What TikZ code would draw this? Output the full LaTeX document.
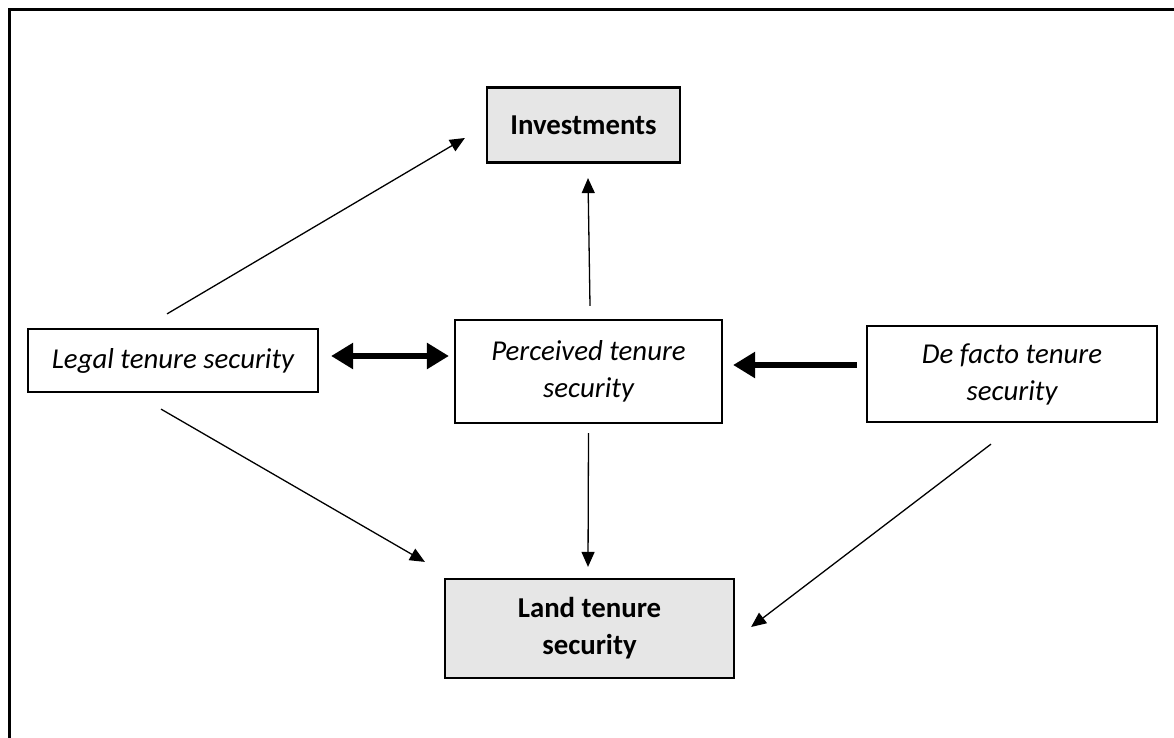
\documentclass[tikz,border=0pt]{standalone}
\usepackage{fontspec}
\setmainfont{Carlito}
\usetikzlibrary{arrows.meta,calc}
\definecolor{boxgray}{HTML}{E6E6E6}
\begin{document}
\begin{tikzpicture}[x=1pt,y=-1pt,
  every node/.style={font=\fontsize{28.8}{37}\selectfont, inner sep=0pt, align=center},
  plainbox/.style={draw=black, line width=2.2pt, fill=white},
  graybox/.style={draw=black, line width=2.2pt, fill=boxgray, font=\fontsize{28.8}{37}\selectfont\bfseries},
  thinarrow/.style={line width=1.3pt, -{Triangle[length=15pt,width=13pt]}},
  thickarrow/.style={line width=6pt, -{Triangle[length=22pt,width=25pt]}},
  thickboth/.style={line width=5.5pt, {Triangle[length=22pt,width=25pt]}-{Triangle[length=22pt,width=25pt]}}
]
\useasboundingbox (0,0) rectangle (1174,738);
\clip (0,0) rectangle (1174,738);
\draw[line width=3pt] (9,10) rectangle (1200,770);

\node[graybox, minimum width=193pt, minimum height=75pt] (inv) at (583.5,125) {Investments};
\node[graybox, minimum width=289pt, minimum height=99pt] (land) at (589.5,628.5) {Land tenure\\security};
\node[plainbox, minimum width=290pt, minimum height=63pt] (legal) at (173,360.5) {\itshape Legal tenure security};
\node[plainbox, minimum width=267pt, minimum height=103pt] (perc) at (588.5,371.5) {\itshape Perceived tenure\\\itshape security};
\node[plainbox, minimum width=290pt, minimum height=96pt] (defacto) at (1012,374) {\itshape De facto tenure\\\itshape security};

\draw[thinarrow] ($(legal.north)+(-6,-14)$) -- ($(inv.west)+(-21,13)$);
\draw[thinarrow] ($(perc.north)+(1.5,-13)$) -- ($(inv.south)+(4.5,14.5)$);
\draw[thickboth] ($(legal.east)+(12,-4.5)$) -- ($(perc.west)+(-5,-15.5)$);
\draw[thickarrow] ($(defacto.west)+(-9,-9)$) -- ($(perc.east)+(10,-6.5)$);
\draw[thinarrow] ($(perc.south)+(0,9)$) -- ($(land.north)+(-1.5,-11)$);
\draw[thinarrow] ($(legal.south)+(-12,16)$) -- ($(land.north west)+(-19,-16)$);
\draw[thinarrow] ($(defacto.south)+(-21,21)$) -- ($(land.east)+(16,-1.5)$);
\end{tikzpicture}
\end{document}
